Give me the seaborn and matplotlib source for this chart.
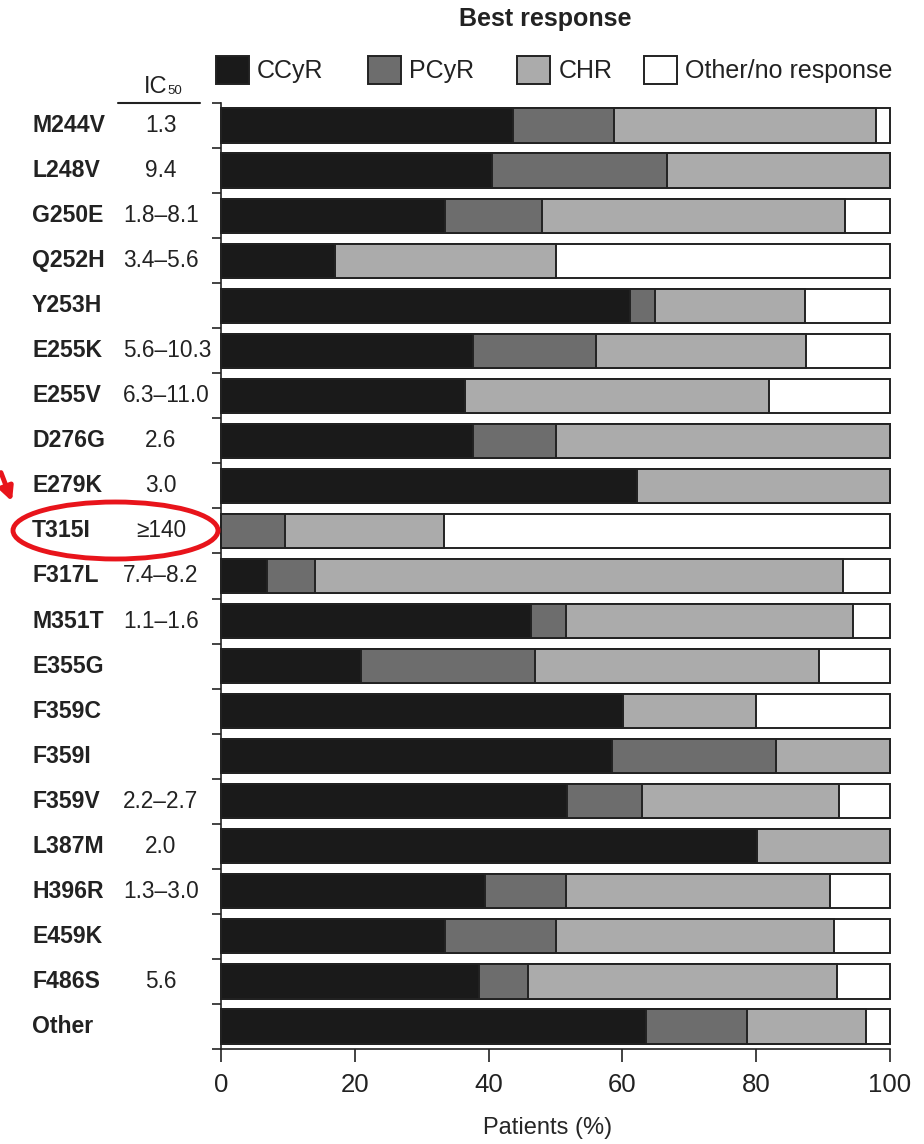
from matplotlib import pyplot as plt
from matplotlib.lines import Line2D
from matplotlib.patches import Ellipse, FancyArrowPatch
import matplotlib.transforms as mtransforms
import numpy as np
import pandas as pd
import seaborn as sns

# best response per mutation, % of patients
mutations = ['M244V', 'L248V', 'G250E', 'Q252H', 'Y253H', 'E255K', 'E255V',
             'D276G', 'E279K', 'T315I', 'F317L', 'M351T', 'E355G', 'F359C',
             'F359I', 'F359V', 'L387M', 'H396R', 'E459K', 'F486S', 'Other']
ic50 = ['1.3', '9.4', '1.8–8.1', '3.4–5.6', '', '5.6–10.3', '6.3–11.0',
        '2.6', '3.0', '≥140', '7.4–8.2', '1.1–1.6', '', '',
        '', '2.2–2.7', '2.0', '1.3–3.0', '', '5.6', '']
ccyr = [43.6, 40.5, 33.5, 17.0, 61.2, 37.7, 36.5, 37.7, 62.2, 0.0, 6.9,
        46.4, 21.0, 60.1, 58.5, 51.7, 80.1, 39.5, 33.5, 38.5, 63.5]
pcyr = [15.2, 26.2, 14.5, 0.0, 3.7, 18.4, 0.0, 12.3, 0.0, 9.5, 7.1,
        5.2, 25.9, 0.0, 24.5, 11.2, 0.0, 12.0, 16.5, 7.4, 15.1]
chr_ = [39.1, 33.3, 45.2, 33.0, 22.4, 31.4, 45.4, 50.0, 37.8, 23.8, 78.9,
        42.8, 42.5, 19.8, 17.0, 29.5, 19.9, 39.5, 41.7, 46.2, 17.8]
other = [2.1, 0.0, 6.8, 50.0, 12.7, 12.5, 18.1, 0.0, 0.0, 66.7, 7.1,
         5.6, 10.6, 20.1, 0.0, 7.6, 0.0, 9.0, 8.3, 7.9, 3.6]

categories = ['CCyR', 'PCyR', 'CHR', 'Other/no response']
colors = ['#1a1a1a', '#6d6d6d', '#ababab', '#ffffff']
edge = '#222222'
# left edge (px) of each legend key, as laid out in the figure
legend_x = [216, 368, 517, 644]


def main():
    sns.set_style('ticks')
    plt.rcParams['font.family'] = ['Liberation Sans', 'DejaVu Sans']
    plt.rcParams['text.color'] = '#222222'

    df = pd.DataFrame({'mutation': mutations, 'CCyR': ccyr, 'PCyR': pcyr,
                       'CHR': chr_, 'Other/no response': other})
    # cumulative ends, drawn back to front
    cum = df[categories].cumsum(axis=1)

    fig = plt.figure(figsize=(9.24, 11.44), dpi=100)
    ax = fig.add_axes([221 / 924, 1 - 1049 / 1144, 669 / 924, 946 / 1144])

    for cat, col in reversed(list(zip(categories, colors))):
        sns.barplot(x=cum[cat], y=df['mutation'], orient='h', color=col,
                    saturation=1, edgecolor=edge, linewidth=1.4, width=0.76,
                    errorbar=None, ax=ax)
    for p in ax.patches:
        p.set_clip_on(False)

    ax.set_xlim(0, 100)
    ax.set_ylim(len(mutations) - 0.5, -0.5)
    ax.set_xticks([0, 20, 40, 60, 80, 100])
    ax.set_yticks(np.arange(-0.5, len(mutations), 1))
    ax.set_yticklabels([])
    ax.tick_params(axis='x', length=9, width=1.2, labelsize=18.5, pad=8,
                   colors='#222222')
    ax.tick_params(axis='y', length=6.5, width=1.2, colors='#222222')
    ax.set_xlabel('Patients (%)', fontsize=17, labelpad=16)
    ax.xaxis.set_label_coords((548 - 221) / 669, -0.072)
    ax.set_ylabel('')
    sns.despine(ax=ax)
    for s in ['left', 'bottom']:
        ax.spines[s].set_linewidth(1.2)
        ax.spines[s].set_color('#222222')

    # row labels and IC50 column
    tr = mtransforms.blended_transform_factory(fig.transFigure, ax.transData)
    for i, (m, v) in enumerate(zip(mutations, ic50)):
        ax.text(32 / 924, i, m, transform=tr, fontsize=16.6,
                fontweight='bold', ha='left', va='center')
        if '–' in v:
            ax.text(123 / 924, i, v, transform=tr, fontsize=16.3,
                    ha='left', va='center')
        elif v:
            ax.text(161 / 924, i, v, transform=tr, fontsize=16.3,
                    ha='center', va='center')

    fig.text(167 / 924, 1 - 93 / 1144, 'IC', fontsize=17, ha='right',
             va='baseline')
    fig.text(167 / 924, 1 - 94 / 1144, '50', fontsize=9.5, ha='left',
             va='baseline')
    fig.add_artist(Line2D([118 / 924, 200 / 924], [1 - 103 / 1144] * 2,
                          transform=fig.transFigure, color='#222222', lw=1.5))

    fig.text(545 / 924, 1 - 19 / 1144, 'Best response', fontsize=18,
             fontweight='bold', ha='center', va='center')

    # one legend per key so the uneven spacing can be kept
    for cat, col, lx in zip(categories, colors, legend_x):
        h = plt.Rectangle((0, 0), 1, 1, facecolor=col, edgecolor=edge,
                          linewidth=1.4)
        fig.legend([h], [cat], frameon=False, fontsize=18,
                   loc='center left', bbox_to_anchor=(lx / 924, 1 - 70 / 1144),
                   borderpad=0, borderaxespad=0, handlelength=1.3,
                   handleheight=1.3, handletextpad=0.35)

    # highlight T315I
    fig.add_artist(Ellipse((115.5 / 924, 1 - 530.5 / 1144), 205 / 924,
                           57 / 1144, transform=fig.transFigure,
                           fill=False, edgecolor='#e8141b', lw=3.5))
    fig.add_artist(FancyArrowPatch(
        (0 / 924, 1 - 470 / 1144), (13 / 924, 1 - 504 / 1144),
        transform=fig.transFigure, arrowstyle='-|>', mutation_scale=20,
        color='#e8141b', lw=3.5))

    fig.savefig('out.png', dpi=100)
    plt.close(fig)


if __name__ == '__main__':
    main()
